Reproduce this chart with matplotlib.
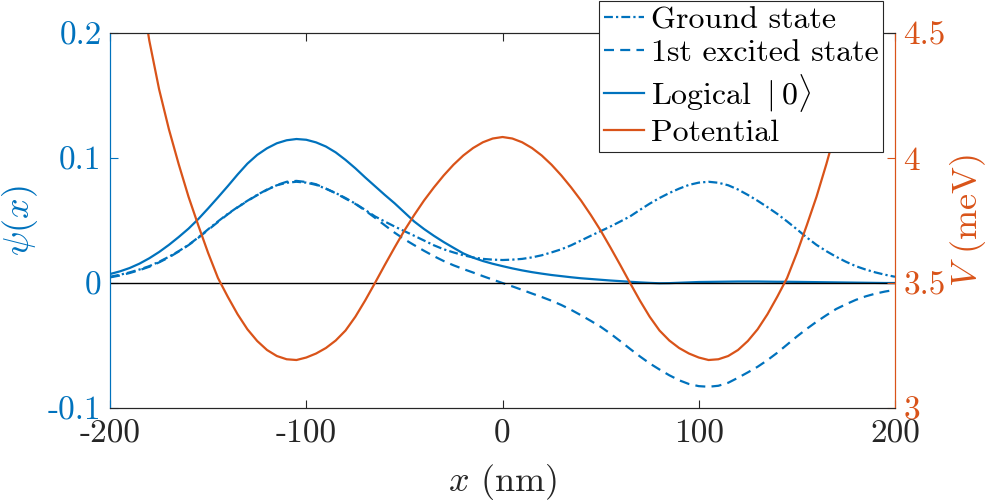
import numpy as np
import matplotlib
matplotlib.use("Agg")
import matplotlib.pyplot as plt

plt.rcParams['font.family'] = 'serif'
plt.rcParams['font.serif'] = ['cmr10']
plt.rcParams['mathtext.fontset'] = 'cm'
plt.rcParams['axes.unicode_minus'] = False

# sample positions (nm), every 5 nm
x_nm = np.arange(-200, 201, 5)

ground = [0.005, 0.0066, 0.0085, 0.0108, 0.0135, 0.017, 0.021, 0.0255, 0.0305, 0.0365,
          0.043, 0.0493, 0.0553, 0.0607, 0.0658, 0.0705, 0.0748, 0.0782, 0.0802, 0.081,
          0.0803, 0.0785, 0.0755, 0.072, 0.068, 0.0635, 0.0585, 0.0533, 0.0492, 0.0452,
          0.0415, 0.0378, 0.034, 0.0302, 0.027, 0.0245, 0.0222, 0.0205, 0.0193, 0.0187,
          0.0184,
          0.0187, 0.0193, 0.0205, 0.0222, 0.0245, 0.027, 0.0302, 0.034, 0.0378, 0.0415,
          0.0452, 0.0492, 0.0533, 0.0585, 0.0635, 0.068, 0.072, 0.0755, 0.0785, 0.0803,
          0.081, 0.0802, 0.0782, 0.0748, 0.0705, 0.0658, 0.0607, 0.0553, 0.0493, 0.043,
          0.0365, 0.0305, 0.0255, 0.021, 0.017, 0.0135, 0.0108, 0.0085, 0.0066, 0.005]

excited = [0.0045, 0.006, 0.008, 0.0103, 0.013, 0.0165, 0.0205, 0.0252, 0.0303, 0.0362,
           0.0425, 0.0488, 0.055, 0.0605, 0.0656, 0.0703, 0.0745, 0.0784, 0.081, 0.0817,
           0.0808, 0.079, 0.0755, 0.0718, 0.0675, 0.0633, 0.058, 0.0522, 0.0462, 0.0403,
           0.035, 0.0303, 0.0258, 0.0215, 0.0176, 0.0142, 0.0112, 0.0084, 0.0055, 0.0027,
           0.0,
           -0.0027, -0.0055, -0.0084, -0.0112, -0.0142, -0.0176, -0.0215, -0.0258, -0.0303, -0.035,
           -0.0405, -0.0465, -0.0527, -0.0587, -0.0643, -0.0692, -0.0738, -0.0778, -0.0808, -0.0825,
           -0.083, -0.0822, -0.0798, -0.0758, -0.0715, -0.067, -0.0617, -0.0558, -0.0493, -0.0428,
           -0.0367, -0.031, -0.0258, -0.0208, -0.017, -0.0135, -0.0107, -0.0085, -0.0068, -0.0055]

logical0 = [0.0072, 0.0093, 0.012, 0.0155, 0.0198, 0.0248, 0.0305, 0.0368, 0.0435, 0.0512,
            0.0597, 0.0685, 0.0775, 0.0868, 0.0955, 0.1025, 0.1078, 0.1118, 0.1142, 0.1152,
            0.1146, 0.1125, 0.1092, 0.1045, 0.0985, 0.0918, 0.0845, 0.0775, 0.0705, 0.0638,
            0.0565, 0.0492, 0.0432, 0.0378, 0.0328, 0.0282, 0.0237, 0.0203, 0.0176, 0.0154,
            0.0135,
            0.0117, 0.0101, 0.0087, 0.0075, 0.0064, 0.0055, 0.0046, 0.0038, 0.0032, 0.0026,
            0.002, 0.0015, 0.001, 0.0005, 0.0001, -0.0002, -0.0001, 0.0002, 0.0005, 0.0008,
            0.0009, 0.001, 0.0011, 0.0012, 0.0012, 0.0012, 0.0011, 0.001, 0.001, 0.0009,
            0.0008, 0.0007, 0.0006, 0.0005, 0.0004, 0.0003, 0.0002, 0.0001, 0.0, 0.0]

potential = [5.50, 5.23, 4.97, 4.72, 4.47, 4.275, 4.115, 3.975, 3.845, 3.73,
             3.62, 3.52, 3.445, 3.375, 3.315, 3.268, 3.232, 3.208, 3.195, 3.192,
             3.202, 3.218, 3.24, 3.27, 3.31, 3.365, 3.43, 3.50, 3.572, 3.642,
             3.71, 3.772, 3.83, 3.882, 3.93, 3.973, 4.01, 4.04, 4.063, 4.078,
             4.084,
             4.078, 4.063, 4.04, 4.01, 3.973, 3.93, 3.882, 3.83, 3.772, 3.71,
             3.642, 3.572, 3.50, 3.43, 3.365, 3.31, 3.27, 3.24, 3.218, 3.202,
             3.192, 3.195, 3.208, 3.232, 3.268, 3.315, 3.375, 3.445, 3.52, 3.62,
             3.73, 3.845, 3.975, 4.115, 4.275, 4.47, 4.72, 4.97, 5.23, 5.50]

xticks = [-200, -100, 0, 100, 200]
xticklabels = ['-200', '-100', '0', '100', '200']
psi_ticks = [-0.1, 0, 0.1, 0.2]
psi_labels = ['-0.1', '0', '0.1', '0.2']
v_ticks = [3, 3.5, 4, 4.5]
v_labels = ['3', '3.5', '4', '4.5']

blue = '#0072BD'
orange = '#D95319'
dark = '#262626'

fig = plt.figure(figsize=(9.94, 5.01), dpi=100)
ax = fig.add_axes([0.1107, 0.1856, 0.7897, 0.7485])
ax2 = ax.twinx()

lw = 1.6
l1, = ax.plot(x_nm, ground, color=blue, lw=lw, dashes=(4, 1.4, 1, 1.4), label='Ground state')
l2, = ax.plot(x_nm, excited, color=blue, lw=lw, dashes=(4.5, 2.8), label='1st excited state')
l3, = ax.plot(x_nm, logical0, color=blue, lw=lw, label=r'Logical $\mid0\rangle$')
ax.axhline(0, color='k', lw=1.0, zorder=3)
l4, = ax2.plot(x_nm, potential, color=orange, lw=lw, label='Potential')

ax.set_xlim(-200, 200)
ax.set_ylim(-0.1, 0.2)
ax2.set_ylim(3, 4.5)

ax.set_xticks(xticks)
ax.set_xticklabels(xticklabels)
ax.set_yticks(psi_ticks)
ax.set_yticklabels(psi_labels)
ax2.set_yticks(v_ticks)
ax2.set_yticklabels(v_labels)

ax.tick_params(axis='x', direction='in', top=True, length=6, width=0.8,
               colors=dark, labelsize=24, pad=8)
ax.tick_params(axis='y', direction='in', length=6, width=0.8,
               colors=blue, labelsize=24, pad=6)
ax2.tick_params(axis='y', direction='in', length=6, width=0.8,
                colors=orange, labelsize=24, pad=6)

for a in (ax, ax2):
    a.spines['top'].set_color(dark)
    a.spines['bottom'].set_color(dark)
    a.spines['left'].set_color(blue)
    a.spines['right'].set_color(orange)
    for s in a.spines.values():
        s.set_linewidth(0.8)

ax.set_xlabel(r'$x$ (nm)', fontsize=26, color=dark, labelpad=10)
ax.set_ylabel(r'$\psi(x)$', fontsize=26, color=blue, labelpad=6)
ax2.set_ylabel(r'$V$ (meV)', fontsize=26, color=orange, labelpad=2)

leg = ax2.legend(handles=[l1, l2, l3, l4], loc='upper right',
                 bbox_to_anchor=(0.9847, 1.0853), borderaxespad=0,
                 fontsize=23, fancybox=False, framealpha=1, edgecolor=dark,
                 handlelength=1.25, handletextpad=0.2, labelspacing=0.15,
                 borderpad=0.15)
leg.get_frame().set_linewidth(0.8)

fig.savefig('out.png', dpi=100)
